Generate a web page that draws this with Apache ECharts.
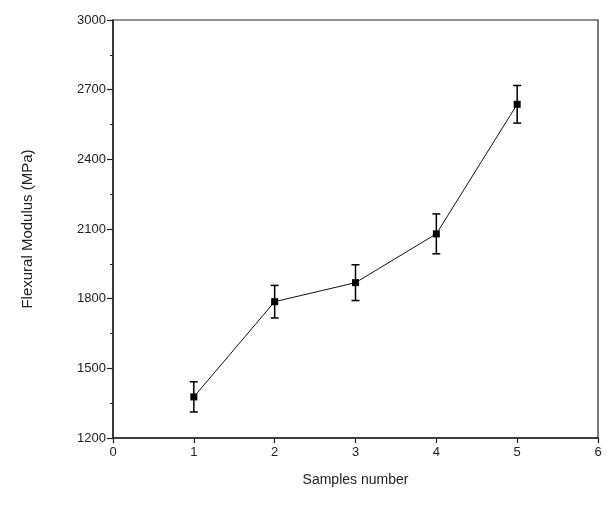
<!DOCTYPE html>
<html>
<head>
<meta charset="utf-8">
<script src="https://cdn.jsdelivr.net/npm/echarts@6/dist/echarts.min.js"></script>
<style>
  html, body { margin: 0; padding: 0; background: #fff; }
  #main { width: 611px; height: 515px; }
</style>
</head>
<body>
<div id="main"></div>
<script>
// samples and flexural modulus (MPa)
var samples = [1, 2, 3, 4, 5];
var modulus = [1377, 1787, 1869, 2079, 2637];
var errors = [65, 70, 77, 86, 81];

var yTicks = [1200, 1500, 1800, 2100, 2400, 2700, 3000];

var lineData = samples.map(function (s, i) { return [s, modulus[i]]; });
var errData = samples.map(function (s, i) { return [s, modulus[i] - errors[i], modulus[i] + errors[i]]; });

var myChart = echarts.init(document.getElementById('main'));

var axisCol = '#222';
var font = 'Liberation Sans, Arial, sans-serif';

var option = {
    backgroundColor: '#fff',
    animation: false,
    grid: {
        left: 113, right: 13, top: 20, bottom: 77,
        show: true, borderColor: axisCol, borderWidth: 1.2
    },
    xAxis: {
        type: 'value',
        min: 0, max: 6, interval: 1,
        name: 'Samples number',
        nameLocation: 'middle',
        nameGap: 35,
        nameTextStyle: { color: '#222', fontSize: 14, fontFamily: font },
        axisLine: { show: true, onZero: false, lineStyle: { color: axisCol, width: 1.5 } },
        axisTick: { show: true, inside: false, length: 5, lineStyle: { color: axisCol, width: 1.2 } },
        axisLabel: { color: '#222', fontSize: 13, fontFamily: font, margin: 8 },
        splitLine: { show: false }
    },
    yAxis: {
        type: 'value',
        min: yTicks[0], max: yTicks[yTicks.length - 1], interval: 300,
        name: 'Flexural Modulus (MPa)',
        nameLocation: 'middle',
        nameGap: 78,
        nameTextStyle: { color: '#222', fontSize: 15, fontFamily: font },
        axisLine: { show: true, lineStyle: { color: axisCol, width: 1.5 } },
        axisTick: { show: true, inside: false, length: 6, lineStyle: { color: axisCol, width: 1.2 } },
        minorTick: { show: true, splitNumber: 2, length: 3, lineStyle: { color: axisCol, width: 1 } },
        axisLabel: {
            color: '#222', fontSize: 13, fontFamily: font, margin: 7,
            formatter: function (v) { return String(v); }
        },
        splitLine: { show: false }
    },
    series: [
        {
            type: 'custom',
            z: 2,
            data: errData,
            renderItem: function (params, api) {
                var x = api.value(0);
                var lo = api.coord([x, api.value(1)]);
                var hi = api.coord([x, api.value(2)]);
                var w = 4;
                var st = { stroke: '#000', lineWidth: 1.5 };
                return {
                    type: 'group',
                    children: [
                        { type: 'line', shape: { x1: hi[0], y1: hi[1], x2: lo[0], y2: lo[1] }, style: st },
                        { type: 'line', shape: { x1: hi[0] - w, y1: hi[1], x2: hi[0] + w, y2: hi[1] }, style: st },
                        { type: 'line', shape: { x1: lo[0] - w, y1: lo[1], x2: lo[0] + w, y2: lo[1] }, style: st }
                    ]
                };
            }
        },
        {
            type: 'line',
            z: 3,
            data: lineData,
            symbol: 'rect',
            symbolSize: 7,
            lineStyle: { color: '#111', width: 1 },
            itemStyle: { color: '#000' }
        }
    ]
};

myChart.setOption(option);
</script>
</body>
</html>
